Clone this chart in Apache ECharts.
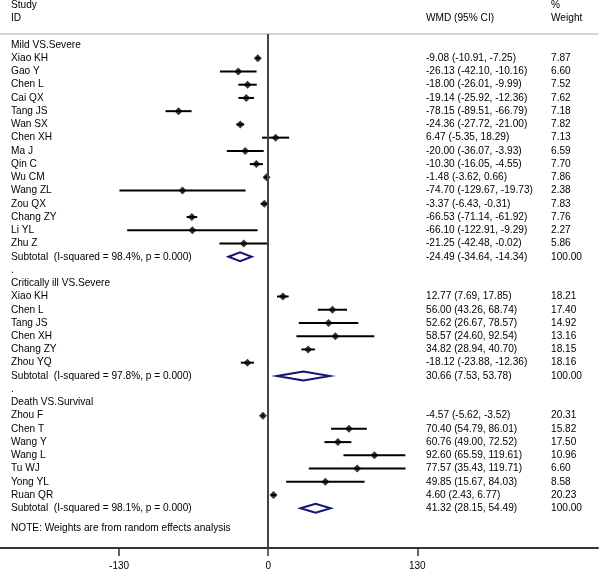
<!DOCTYPE html>
<html><head><meta charset="utf-8">
<script src="https://cdn.jsdelivr.net/npm/echarts@6/dist/echarts.min.js"></script>
<style>html,body{margin:0;padding:0;background:#fff}#c{width:600px;height:572px}</style>
</head><body><div id="c"></div>
<script>
// ---------- data ----------
const groupTitles = ['Mild VS.Severe', 'Critically ill VS.Severe', 'Death VS.Survival'];

const mildStudies = ['Xiao KH','Gao Y','Chen L','Cai QX','Tang JS','Wan SX','Chen XH','Ma J','Qin C','Wu CM','Wang ZL','Zou QX','Chang ZY','Li YL','Zhu Z'];
const mildWMD  = [-9.08,-26.13,-18.00,-19.14,-78.15,-24.36,6.47,-20.00,-10.30,-1.48,-74.70,-3.37,-66.53,-66.10,-21.25];
const mildLow  = [-10.91,-42.10,-26.01,-25.92,-89.51,-27.72,-5.35,-36.07,-16.05,-3.62,-129.67,-6.43,-71.14,-122.91,-42.48];
const mildHigh = [-7.25,-10.16,-9.99,-12.36,-66.79,-21.00,18.29,-3.93,-4.55,0.66,-19.73,-0.31,-61.92,-9.29,-0.02];
const mildWeight = [7.87,6.60,7.52,7.62,7.18,7.82,7.13,6.59,7.70,7.86,2.38,7.83,7.76,2.27,5.86];

const critStudies = ['Xiao KH','Chen L','Tang JS','Chen XH','Chang ZY','Zhou YQ'];
const critWMD  = [12.77,56.00,52.62,58.57,34.82,-18.12];
const critLow  = [7.69,43.26,26.67,24.60,28.94,-23.88];
const critHigh = [17.85,68.74,78.57,92.54,40.70,-12.36];
const critWeight = [18.21,17.40,14.92,13.16,18.15,18.16];

const deathStudies = ['Zhou F','Chen T','Wang Y','Wang L','Tu WJ','Yong YL','Ruan QR'];
const deathWMD  = [-4.57,70.40,60.76,92.60,77.57,49.85,4.60];
const deathLow  = [-5.62,54.79,49.00,65.59,35.43,15.67,2.43];
const deathHigh = [-3.52,86.01,72.52,119.61,119.71,84.03,6.77];
const deathWeight = [20.31,15.82,17.50,10.96,6.60,8.58,20.23];

// subtotals: [WMD, low, high]
const subtotalWMD  = [-24.49, 30.66, 41.32];
const subtotalLow  = [-34.64, 7.53, 28.15];
const subtotalHigh = [-14.34, 53.78, 54.49];
const subtotalI2   = ['98.4%', '97.8%', '98.1%'];
const subtotalP    = ['0.000', '0.000', '0.000'];

const tickValues = [-130, 0, 130];
const noteText = 'NOTE: Weights are from random effects analysis';

// ---------- build rows ----------
const groups = [
  [mildStudies, mildWMD, mildLow, mildHigh, mildWeight],
  [critStudies, critWMD, critLow, critHigh, critWeight],
  [deathStudies, deathWMD, deathLow, deathHigh, deathWeight]
];
const textRows = [];
const studyRows = [];
const subRows = [];
textRows.push({row: -3, a: 'Study', c: '%'});
textRows.push({row: -2, a: 'ID', b: 'WMD (95% CI)', c: 'Weight'});
let r = 0;
const f = v => v.toFixed(2);
groups.forEach((g, gi) => {
  const [names, est, lo, hi, w] = g;
  textRows.push({row: r, a: groupTitles[gi]});
  r++;
  names.forEach((n, i) => {
    textRows.push({row: r, a: n, b: f(est[i]) + ' (' + f(lo[i]) + ', ' + f(hi[i]) + ')', c: f(w[i])});
    studyRows.push({row: r, est: est[i], lo: lo[i], hi: hi[i]});
    r++;
  });
  textRows.push({row: r, a: 'Subtotal  (I-squared = ' + subtotalI2[gi] + ', p = ' + subtotalP[gi] + ')',
    b: f(subtotalWMD[gi]) + ' (' + f(subtotalLow[gi]) + ', ' + f(subtotalHigh[gi]) + ')', c: '100.00'});
  subRows.push({row: r, est: subtotalWMD[gi], lo: subtotalLow[gi], hi: subtotalHigh[gi]});
  r++;
  if (gi < groups.length - 1) { textRows.push({row: r, a: '.'}); r++; }
});
textRows.push({row: r + 0.5, a: noteText});

// ---------- chart ----------
const FONT = '"Liberation Sans", Arial, sans-serif';
const chart = echarts.init(document.getElementById('c'), null, {renderer: 'canvas'});
chart.setOption({
  animation: false,
  backgroundColor: '#fff',
  grid: {left: 0, right: 2, top: 34, bottom: 24},
  xAxis: [{
    type: 'value', min: -233.8, max: 287.5, position: 'bottom',
    axisLine: {show: true, onZero: false, lineStyle: {color: '#333', width: 2}},
    axisTick: {show: true, length: 8, lineStyle: {color: '#333', width: 1.5}, customValues: tickValues},
    axisLabel: {show: true, customValues: tickValues, margin: 13, color: '#000', fontSize: 10, fontFamily: FONT},
    splitLine: {show: false}
  }, {
    type: 'value', min: -233.8, max: 287.5, position: 'top',
    axisLine: {show: true, onZero: false, lineStyle: {color: '#c8c8c8', width: 1.5}},
    axisTick: {show: false}, axisLabel: {show: false}, splitLine: {show: false}
  }],
  yAxis: {type: 'value', inverse: true, min: -0.83, max: 38, show: false},
  series: [
    {
      type: 'custom', name: 'ci', clip: false, z: 3,
      data: studyRows.map(d => [d.lo, d.hi, d.row]),
      renderItem: (params, api) => {
        const p1 = api.coord([api.value(0), api.value(2)]);
        const p2 = api.coord([api.value(1), api.value(2)]);
        return {type: 'line', shape: {x1: p1[0], y1: p1[1], x2: p2[0], y2: p2[1]},
          style: {stroke: '#000', lineWidth: 2}};
      },
      markLine: {
        silent: true, symbol: 'none', label: {show: false},
        lineStyle: {color: '#444', width: 2, type: 'solid'},
        data: [{xAxis: 0}]
      }
    },
    {
      type: 'scatter', name: 'est', symbol: 'diamond', symbolSize: 8, z: 4,
      itemStyle: {color: '#000'},
      data: studyRows.map(d => [d.est, d.row])
    },
    {
      type: 'custom', name: 'subtotal', clip: false, z: 4,
      data: subRows.map(d => [d.lo, d.est, d.hi, d.row]),
      renderItem: (params, api) => {
        const y = api.value(3);
        const a = api.coord([api.value(0), y]);
        const m = api.coord([api.value(1), y]);
        const b = api.coord([api.value(2), y]);
        const h = 4.5;
        return {type: 'polygon', shape: {points: [[a[0], a[1]], [m[0], m[1] - h], [b[0], b[1]], [m[0], m[1] + h]]},
          style: {fill: '#fff', stroke: '#141478', lineWidth: 2}};
      }
    },
    {
      type: 'custom', name: 'text', clip: false, z: 5,
      data: textRows.map(d => [0, d.row]),
      renderItem: (params, api) => {
        const t = textRows[params.dataIndex];
        const y = api.coord([0, api.value(1)])[1];
        const children = [];
        const mk = (x, s) => ({type: 'text', style: {x: x, y: y, text: s, fill: '#000', fontSize: 10.15,
          fontFamily: FONT, align: 'left', verticalAlign: 'middle'}});
        if (t.a) children.push(mk(11, t.a));
        if (t.b) children.push(mk(426, t.b));
        if (t.c) children.push(mk(551, t.c));
        return {type: 'group', children: children};
      }
    }
  ]
});
</script>
</body></html>
